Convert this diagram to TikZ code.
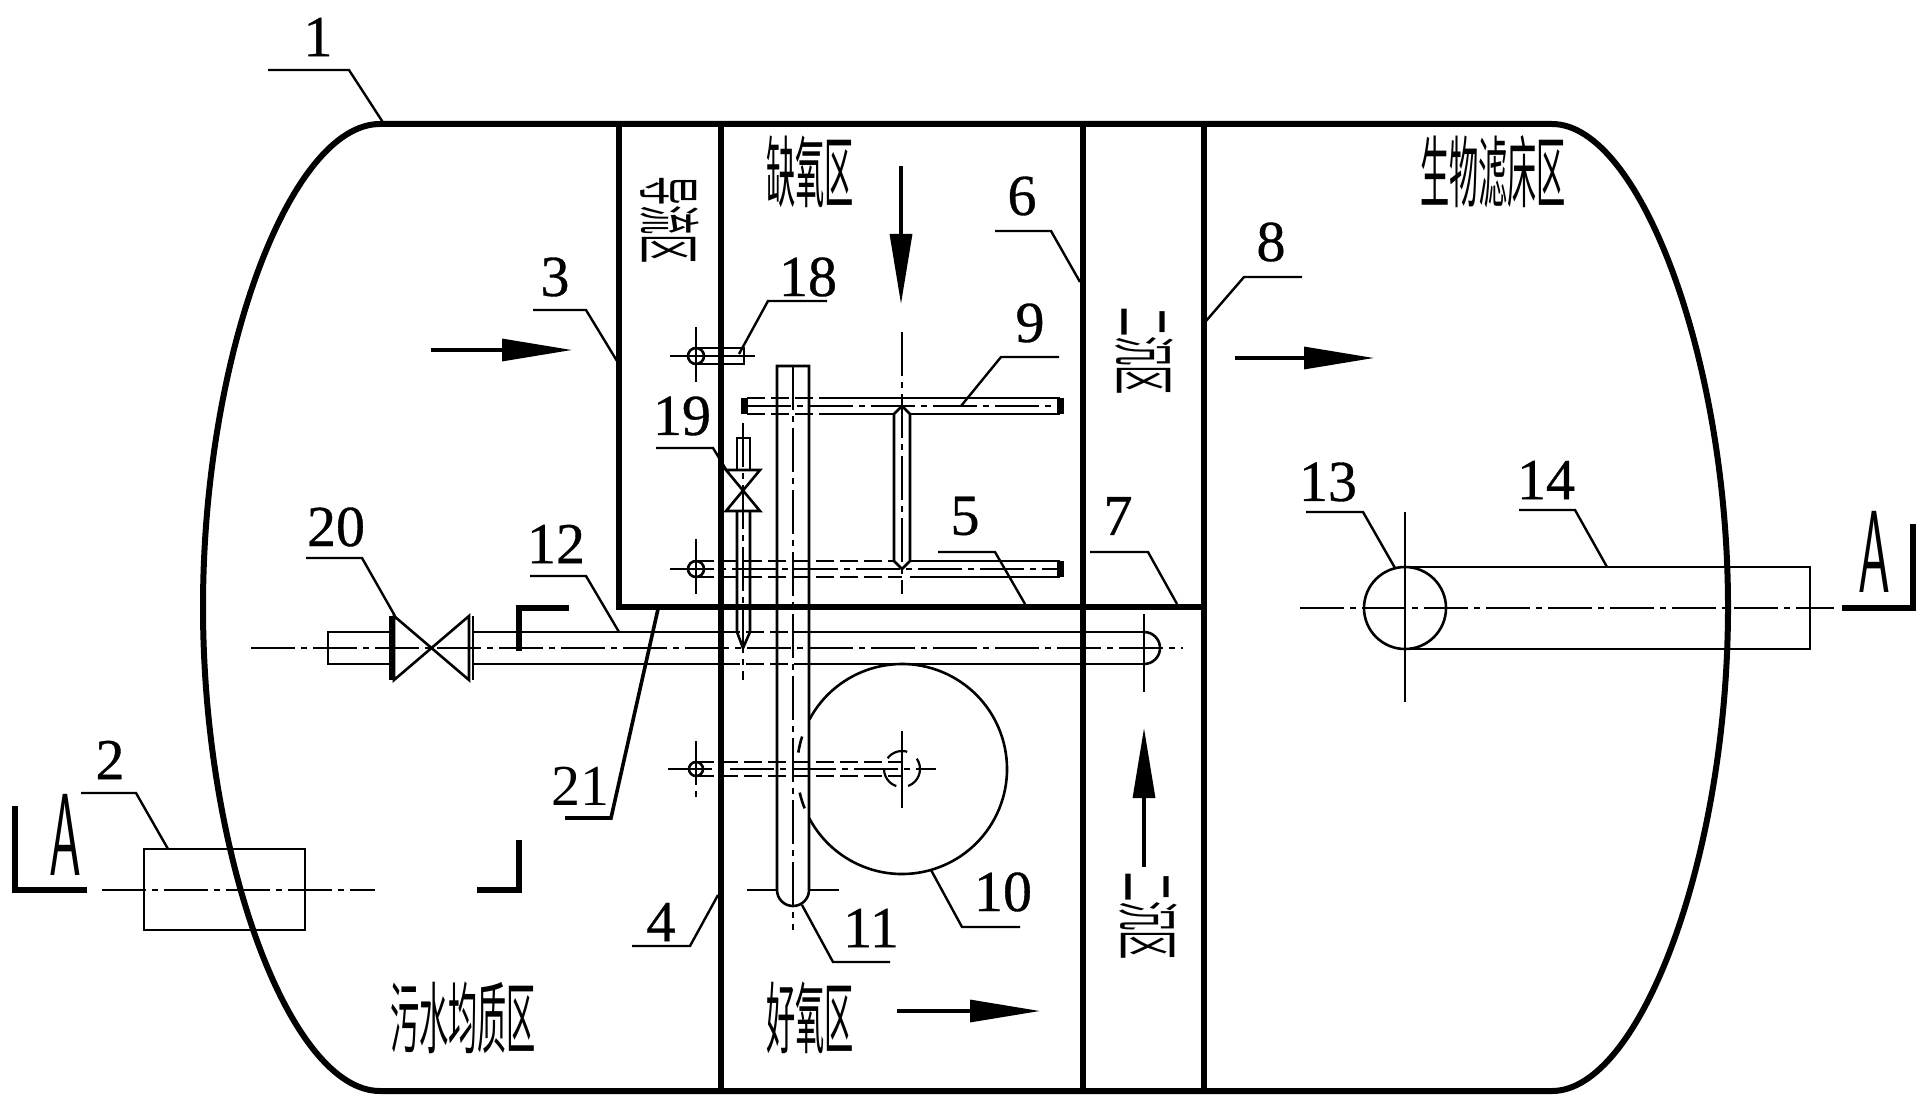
\documentclass[tikz,border=0pt]{standalone}
\usepackage{fontspec}
\setmainfont{Liberation Serif}
\newfontfamily\cjk{Noto Sans CJK SC}
\newfontfamily\numfont[FakeBold=0.6]{Liberation Serif}
\usetikzlibrary{arrows.meta}
\tikzset{
	wall/.style={line width=3.2pt},
	shell/.style={line width=3pt},
	pipe/.style={line width=1.3pt},
	hidden/.style={line width=1.3pt, dash pattern=on 9pt off 3pt},
	cline/.style={line width=1.1pt, dash pattern=on 22pt off 3pt on 3pt off 3pt},
	thin line/.style={line width=1.1pt},
	leader/.style={line width=1.2pt},
	cut/.style={line width=3.2pt},
	flow/.style={line width=1.6pt, -{Triangle[length=35pt,width=11pt]}},
	num/.style={font=\numfont\fontsize{29}{30}\selectfont, inner sep=0pt},
	zone/.style={font=\cjk\fontsize{20}{20}\selectfont, inner sep=0pt, xscale=.73, yscale=1.95},
	sidezone/.style={font=\cjk\fontsize{20}{20}\selectfont, inner sep=0pt, rotate=-90, xscale=.73, yscale=1.6},
	cutname/.style={font=\sffamily\fontsize{30}{30}\selectfont, inner sep=0pt, xscale=.85, yscale=1.95},
	ring/.style={circle, draw, line width=1.3pt, inner sep=0pt},
}
\begin{document}
\begin{tikzpicture}[x=0.5pt, y=-0.5pt]
		\useasboundingbox (0,0) rectangle (1931,1107);

		\draw[shell] (380,124) -- (1552,124)
			.. controls (1640,124) and (1728,360) .. (1728,607)
			.. controls (1728,857) and (1640,1091) .. (1552,1091)
			-- (380,1091)
			.. controls (290,1091) and (203,857) .. (203,607)
			.. controls (203,357) and (290,124) .. (380,124) -- cycle;

		\draw[wall] (619,124) -- (619,607) -- (1204,607);
		\draw[wall] (721,124) -- (721,1091);
		\draw[wall] (1083,124) -- (1083,1091);
		\draw[wall] (1204,124) -- (1204,1091);

		\node[sidezone] (guide) at (670,220) {导流区};
		\node[zone] (anoxic) at (810,172) {缺氧区};
		\node[sidezone] (clarA) at (1144,351) {二沉区};
		\node[sidezone] (clarB) at (1148,916) {二沉区};
		\node[zone] (bed) at (1493,172) {生物滤床区};
		\node[zone] (equal) at (463,1018) {污水均质区};
		\node[zone] (aerobic) at (810,1018) {好氧区};

		\draw[flow] (431,350) -- (572,350);
		\draw[flow] (901,166) -- (901,304);
		\draw[flow] (1235,358) -- (1374,358);
		\draw[flow] (1144,867) -- (1144,728);
		\draw[flow] (897,1011) -- (1040,1011);

		% inlet pipe
		\draw[cline] (251,648) -- (1183,648);
		\draw[pipe] (392,632) -- (328,632) -- (328,664) -- (392,664);
		\draw[pipe] (473,632) -- (720,632) (810,632) -- (1144,632);
		\draw[pipe] (473,664) -- (720,664) (810,664) -- (1144,664);
		\draw[hidden] (722,632) -- (810,632);
		\draw[hidden] (722,664) -- (810,664);
		\draw[pipe] (1144,632) arc (-90:90:16);
		\draw[thin line] (1144,614) -- (1144,692);
		\draw[wall] (392,616) -- (392,680);
		\draw[pipe] (394,616) -- (469,680) -- (469,616) -- (394,680) -- cycle;
		\draw[pipe] (473,616) -- (473,680);
		\draw[wall] (519,651) -- (519,608) -- (569,608);

		% main riser
		\draw[pipe] (777,366) -- (809,366) -- (809,890) arc (0:180:16) -- cycle;
		\draw[cline] (793,366) -- (793,930);
		\draw[thin line] (747,890) -- (777,890) (809,890) -- (839,890);

		% cross pipes
		\draw[cline] (902,332) -- (902,594);
		\draw[pipe] (825,398) -- (1060,398) (825,414) -- (894,414) (910,414) -- (1060,414);
		\draw[hidden] (747,398) -- (825,398);
		\draw[hidden] (747,414) -- (825,414);
		\draw[cline] (747,406) -- (1058,406);
		\draw[line width=3.5pt] (744,398) -- (744,414);
		\draw[line width=3.5pt] (1060,398) -- (1060,414);
		\draw[pipe] (894,414) -- (902,406) -- (910,414) -- (910,561) -- (902,569) -- (894,561) -- cycle;
		\draw[pipe] (910,561) -- (1060,561) (910,577) -- (1060,577);
		\draw[hidden] (696,561) -- (894,561);
		\draw[hidden] (696,577) -- (902,577);
		\draw[cline] (670,569) -- (1058,569);
		\draw[line width=3.5pt] (1060,561) -- (1060,577);
		\node[ring, minimum size=8pt] (ringB) at (696,569) {};
		\draw[thin line] (696,539) -- (696,594);

		\node[ring, minimum size=8pt] (ringA) at (696,356) {};
		\draw[pipe] (696,348) -- (744,348) -- (744,364) -- (696,364);
		\draw[thin line] (670,356) -- (755,356) (696,327) -- (696,382);

		% valve
		\draw[pipe] (737,470) -- (737,438) -- (750,438) -- (750,470);
		\draw[pipe] (726,470) -- (760,470) -- (726,511) -- (760,511) -- cycle;
		\draw[pipe] (737,511) -- (737,632) -- (743,648) -- (750,632) -- (750,511);
		\draw[cline] (743,423) -- (743,680);

		% blower
		\draw[pipe] (902,769) ++(-152:105) arc (-152:152:105);
		\draw[pipe] (902,769) ++(158:105) arc (158:167:105);
		\draw[pipe] (902,769) ++(189:105) arc (189:198:105);
		\node[ring, minimum size=7pt] (ringC) at (696,769) {};
		\draw[hidden] (696,762) -- (902,762) -- (902,776) -- (696,776);
		\draw[cline] (668,769) -- (936,769);
		\draw[cline] (696,741) -- (696,797);
		\draw[thin line] (902,731) -- (902,808);
		\draw[thin line, dash pattern=on 11pt off 6pt] (902,769) circle [radius=18];

		% outlet and tank
		\draw[pipe] (1405,567) -- (1810,567) -- (1810,649) -- (1405,649);
		\node[ring, minimum size=41pt, fill=white] (outlet) at (1405,608) {};
		\draw[cline] (1300,608) -- (1834,608);
		\draw[thin line] (1405,512) -- (1405,702);
		\draw[pipe] (144,849) rectangle (305,930);
		\draw[cline] (102,890) -- (375,890);

		\draw[cut] (15,806) -- (15,890) -- (87,890);
		\draw[cut] (477,890) -- (519,890) -- (519,840);
		\draw[cut] (1913,524) -- (1913,608) -- (1842,608);
		\node[cutname] (cutL) at (65,835) {A};
		\node[cutname] (cutR) at (1874,552) {A};

		\node[num] (n1) at (318,37) {1};
		\node[num] (n2) at (110,760) {2};
		\node[num] (n3) at (555,277) {3};
		\node[num] (n4) at (661,922) {4};
		\node[num] (n5) at (965,516) {5};
		\node[num] (n6) at (1022,196) {6};
		\node[num] (n7) at (1118,516) {7};
		\node[num] (n8) at (1271,242) {8};
		\node[num] (n9) at (1030,323) {9};
		\node[num] (n10) at (1003,892) {10};
		\node[num] (n11) at (871,928) {11};
		\node[num] (n12) at (556,544) {12};
		\node[num] (n13) at (1328,482) {13};
		\node[num] (n14) at (1546,480) {14};
		\node[num] (n18) at (808,277) {18};
		\node[num] (n19) at (682,416) {19};
		\node[num] (n20) at (336,527) {20};
		\node[num, font=\fontsize{29}{30}\selectfont] (n21) at (580,786) {21};

		\draw[leader] (268,70) -- (349,70) -- (384,124);
		\draw[leader] (81,793) -- (136,793) -- (168,849);
		\draw[leader] (533,310) -- (586,310) -- (617,361);
		\draw[leader] (632,946) -- (690,946) -- (718,895);
		\draw[leader] (938,552) -- (995,552) -- (1025,604);
		\draw[leader] (995,231) -- (1051,231) -- (1080,282);
		\draw[leader] (1090,552) -- (1148,552) -- (1177,604);
		\draw[leader] (1302,277) -- (1244,277) -- (1206,321);
		\draw[leader] (1059,357) -- (1001,357) -- (961,406);
		\draw[leader] (1020,927) -- (962,927) -- (931,870);
		\draw[leader] (890,962) -- (833,962) -- (802,905);
		\draw[leader] (530,576) -- (586,576) -- (619,632);
		\draw[leader] (1306,512) -- (1363,512) -- (1395,568);
		\draw[leader] (1519,510) -- (1575,510) -- (1607,567);
		\draw[leader] (827,301) -- (768,301) -- (739,354);
		\draw[leader] (656,448) -- (713,448) -- (727,471);
		\draw[leader] (306,558) -- (362,558) -- (395,616);
		\draw[line width=1.8pt] (565,818) -- (611,818) -- (658,609);
\end{tikzpicture}
\end{document}
